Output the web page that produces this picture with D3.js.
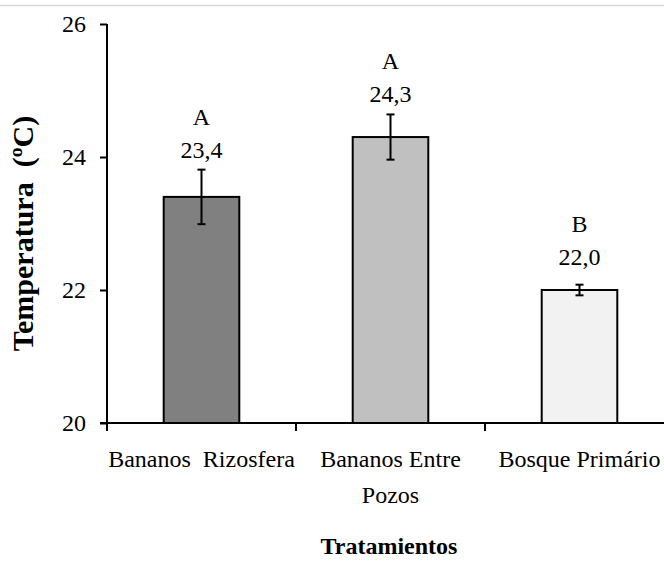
<!DOCTYPE html>
<html>
<head>
<meta charset="utf-8">
<script src="https://cdn.jsdelivr.net/npm/d3@7/dist/d3.min.js"></script>
<style>
  html, body { margin: 0; padding: 0; background: #fff; }
  svg { display: block; }
  text { font-family: "Liberation Serif", "Times New Roman", serif; fill: #000; }
</style>
</head>
<body>
<div id="chart"></div>
<script>
// Soil temperature by treatment
const categories = ["Bananos  Rizosfera", "Bananos Entre|Pozos", "Bosque Primário"];
const means = [23.4, 24.3, 22.0];
const errors = [0.41, 0.34, 0.08];
const letters = ["A", "A", "B"];
const valueLabels = ["23,4", "24,3", "22,0"];
const yTicks = [20, 22, 24, 26];
const barColors = ["#808080", "#c0c0c0", "#f2f2f2"];

const W = 664, H = 566;
const margin = { left: 107, top: 24, bottom: 143 };
const plotRight = 674;

const svg = d3.select("#chart").append("svg")
  .attr("width", W).attr("height", H);

// thin frame line along the top edge
svg.append("line")
  .attr("x1", 0).attr("x2", W).attr("y1", 5.5).attr("y2", 5.5)
  .attr("stroke", "#d9d9d9").attr("stroke-width", 1.5);

const y = d3.scaleLinear().domain([20, 26]).range([H - margin.bottom, margin.top]);
const x = d3.scaleBand().domain(categories).range([margin.left, plotRight])
  .paddingInner(0.6).paddingOuter(0.3);
const xOuter = d3.scaleBand().domain(categories).range([margin.left, plotRight]);

// y axis
const yAxis = d3.axisLeft(y).tickValues(yTicks).tickFormat(d3.format("d"))
  .tickSize(7).tickPadding(14);
const gy = svg.append("g").attr("transform", `translate(${margin.left},0)`).call(yAxis);
gy.select(".domain").attr("stroke", "#000").attr("stroke-width", 2)
  .attr("d", `M0,${y(26)}V${y(20)}`);
gy.selectAll(".tick line").attr("stroke", "#000").attr("stroke-width", 2);
gy.selectAll(".tick text").attr("font-size", 24)
  .style("font-family", "'Liberation Serif', serif");

// bars
svg.append("g").selectAll("rect").data(categories).join("rect")
  .attr("x", d => x(d))
  .attr("width", x.bandwidth())
  .attr("y", (d, i) => y(means[i]))
  .attr("height", (d, i) => y(20) - y(means[i]))
  .attr("fill", (d, i) => barColors[i])
  .attr("stroke", "#000").attr("stroke-width", 2);

// x axis line and category boundary ticks
const y0 = y(20);
svg.append("line").attr("x1", margin.left - 7).attr("x2", W)
  .attr("y1", y0).attr("y2", y0).attr("stroke", "#000").attr("stroke-width", 2);
svg.append("g").selectAll("line").data(categories).join("line")
  .attr("x1", d => xOuter(d)).attr("x2", d => xOuter(d))
  .attr("y1", y0).attr("y2", y0 + 8)
  .attr("stroke", "#000").attr("stroke-width", 2);

// error bars
const cap = 4;
const eb = svg.append("g").attr("stroke", "#000").attr("stroke-width", 2);
categories.forEach((c, i) => {
  const cx = x(c) + x.bandwidth() / 2;
  const top = y(means[i] + errors[i]), bot = y(means[i] - errors[i]);
  eb.append("line").attr("x1", cx).attr("x2", cx).attr("y1", top).attr("y2", bot);
  eb.append("line").attr("x1", cx - cap).attr("x2", cx + cap).attr("y1", top).attr("y2", top);
  eb.append("line").attr("x1", cx - cap).attr("x2", cx + cap).attr("y1", bot).attr("y2", bot);
});

// value and letter labels above the error bars
const lab = svg.append("g").attr("text-anchor", "middle").attr("font-size", 24);
categories.forEach((c, i) => {
  const cx = x(c) + x.bandwidth() / 2;
  const base = Math.min(y(means[i] + errors[i]) - 12, y(means[i]) - 25);
  lab.append("text").attr("x", cx).attr("y", base).text(valueLabels[i]);
  lab.append("text").attr("x", cx).attr("y", base - 33).text(letters[i]);
});

// category labels
const cl = svg.append("g").attr("text-anchor", "middle").attr("font-size", 24);
categories.forEach(c => {
  const cx = x(c) + x.bandwidth() / 2;
  c.split("|").forEach((line, k) => {
    cl.append("text").attr("x", cx).attr("y", y0 + 44 + k * 36)
      .style("white-space", "pre").text(line);
  });
});

// axis titles
svg.append("text").attr("text-anchor", "middle").attr("font-weight", "bold")
  .attr("font-size", 24).attr("x", 389).attr("y", H - 12).text("Tratamientos");
svg.append("text").attr("text-anchor", "middle").attr("font-weight", "bold")
  .attr("font-size", 30).style("white-space", "pre")
  .attr("transform", `translate(33,${(y(20) + y(26)) / 2 + 10}) rotate(-90)`)
  .text("Temperatura  (ºC)");
</script>
</body>
</html>
